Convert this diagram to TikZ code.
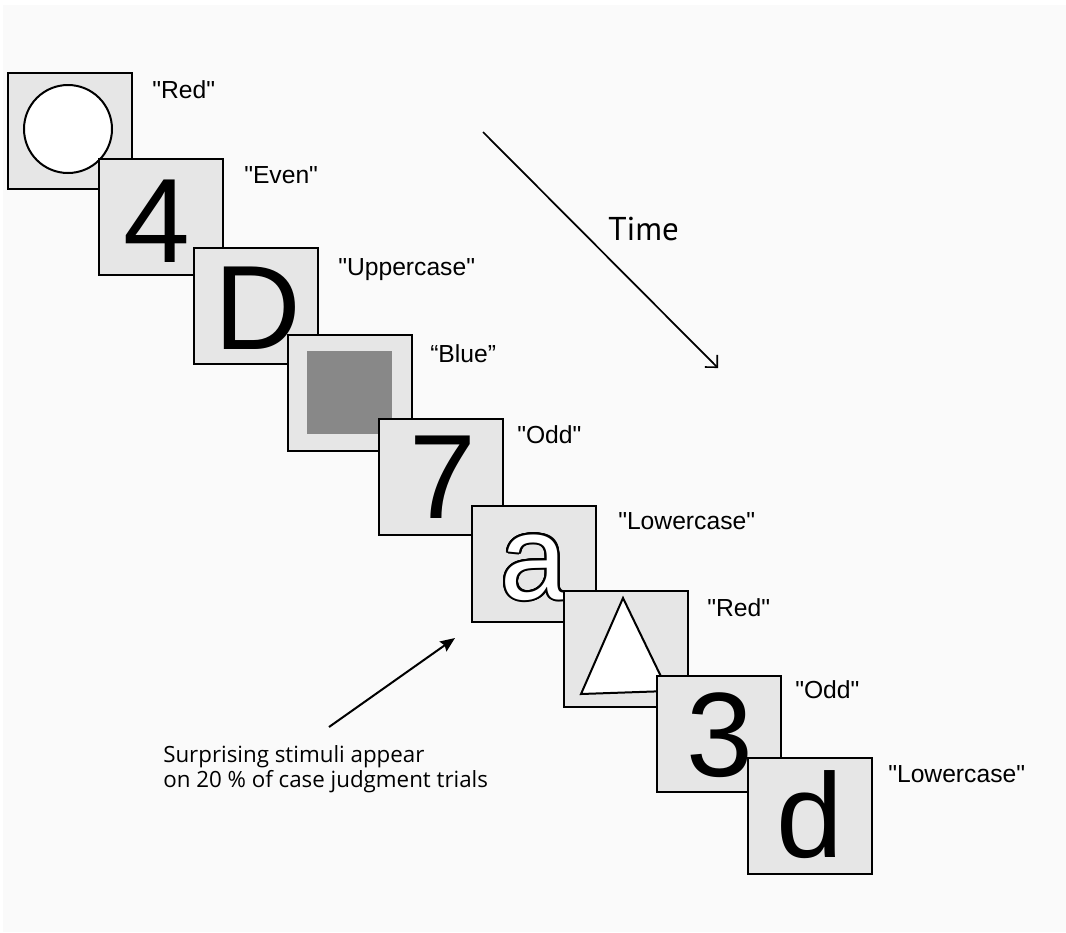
\documentclass[tikz,border=0pt]{standalone}
\usepackage{fontspec}
\setmainfont{Liberation Sans}
\newfontfamily\notefont{Open Sans}
\newfontfamily\timefont{PT Sans}
\font\lblf="Liberation Sans" at 18.5pt
\usetikzlibrary{arrows.meta}
\definecolor{bg}{HTML}{FAFAFA}
\definecolor{boxfill}{HTML}{E6E6E6}
\definecolor{innergray}{HTML}{888888}
\begin{document}
\begin{tikzpicture}[x=0.75pt,y=-0.75pt,
 card/.style={draw=black, line width=1.5pt, fill=boxfill, minimum width=93pt, minimum height=87pt, inner sep=0pt, shape=rectangle},
 glyph/.style={font=\fontsize{90}{90}\selectfont, inner sep=0pt, anchor=base},
 lbl/.style={font=\lblf, inner sep=0pt, anchor=base west},
 note/.style={font=\notefont\fontsize{16.75}{19}\selectfont, inner sep=0pt, anchor=base west},
 timelbl/.style={font=\timefont\fontsize{24.75}{28}\selectfont, inner sep=0pt, anchor=base west}]
\fill[white] (0,0) rectangle (1066,932);
\fill[bg] (3,5) rectangle (1066,932);
\useasboundingbox (0,0) rectangle (1066,932);

% card 1: circle
\node[card] (c1) at (70,130.5) {};
\node[circle, draw=black, line width=1.5pt, fill=white, minimum size=66pt, inner sep=0pt] (circ) at (68,129) {};
\node[lbl] (l1) at (152,98) {"Red"};

% card 2: 4
\node[card] (c2) at (160.5,216.5) {};
\node[glyph] (g2) at (157,262) {4};
\node[lbl] (l2) at (244,183) {"Even"};

% card 3: D
\node[card] (c3) at (255.5,305.5) {};
\node[glyph] (g3) at (258,349) {D};
\node[lbl] (l3) at (338,275) {"Uppercase"};

% card 4: blue square
\node[card] (c4) at (349.5,393) {};
\node[fill=innergray, minimum width=63.75pt, minimum height=62.25pt, inner sep=0pt] (sq) at (349.5,392.5) {};
\node[lbl] (l4) at (430,362) {“Blue”};

% card 5: 7
\node[card] (c5) at (441,476.5) {};
\node[glyph] (g5) at (443,518) {7};
\node[lbl] (l5) at (517,443) {"Odd"};

% card 6: outlined a
\node[card] (c6) at (533.5,563.5) {};
\foreach \ang in {0,15,...,345}
  \node[glyph, text=black, shift={(\ang:1.5pt)}] at (534,599) {a};
\node[glyph, text=white] (g6) at (534,599) {a};
\node[lbl] (l6) at (618,529) {"Lowercase"};

% card 7: triangle
\node[card] (c7) at (625.5,648.5) {};
\draw[line width=1.5pt, fill=white, line join=miter] (623,598) -- (581,694) -- (668,691) -- cycle;
\node[lbl] (l7) at (707,616) {"Red"};

% card 8: 3
\node[card] (c8) at (718.5,734) {};
\node[glyph] (g8) at (720,776) {3};
\node[lbl] (l8) at (795,698) {"Odd"};

% card 9: d
\node[card] (c9) at (809.5,816) {};
\node[glyph] (g9) at (810,857) {d};
\node[lbl] (l9) at (888,782) {"Lowercase"};

% time arrow
\coordinate (t0) at (483,132);
\coordinate (t1) at (718,368);
\draw[line width=1.3pt, -{Straight Barb[length=6.5pt, width=13pt]}] (t0) -- (t1);
\node[timelbl] (tl) at (608,240) {Time};

% note arrow
\coordinate (n0) at (329,727);
\coordinate (n1) at (455,638);
\draw[line width=1.5pt, -{Stealth[length=11pt, width=9pt, inset=1.5pt]}] (n0) -- (n1);
\node[note] (nl1) at (163,762) {Surprising stimuli appear};
\node[note] (nl2) at (163,787) {on 20 \% of case judgment trials};
\end{tikzpicture}
\end{document}
